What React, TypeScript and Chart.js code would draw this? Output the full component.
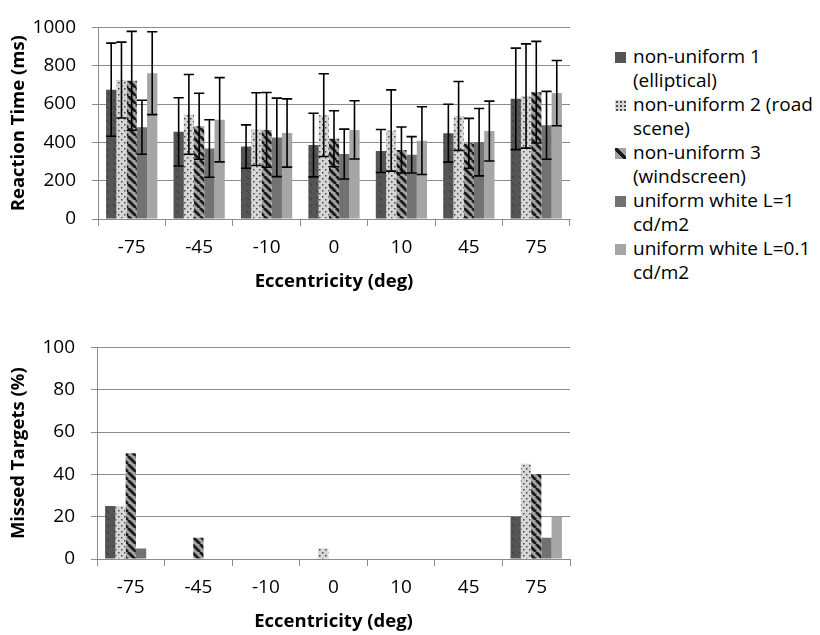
import React, { useEffect, useRef } from "react";
import { Chart, registerables } from "chart.js";

Chart.register(...registerables);

const categories = ["-75", "-45", "-10", "0", "10", "45", "75"];
const seriesNames = [
  "non-uniform 1\n(elliptical)",
  "non-uniform 2 (road\nscene)",
  "non-uniform 3\n(windscreen)",
  "uniform white L=1\ncd/m2",
  "uniform white L=0.1\ncd/m2",
];

// Reaction time means (ms)
const rt1 = [675, 455, 378, 386, 355, 448, 627];
const rt2 = [725, 546, 469, 542, 462, 538, 642];
const rt3 = [721, 484, 465, 419, 360, 395, 662];
const rt4 = [479, 368, 426, 339, 335, 401, 489];
const rt5 = [761, 518, 449, 465, 409, 459, 657];

// Reaction time error (± ms)
const err1 = [243, 178, 113, 166, 112, 151, 265];
const err2 = [198, 208, 190, 216, 212, 180, 272];
const err3 = [258, 172, 195, 146, 120, 130, 265];
const err4 = [141, 150, 205, 130, 95, 176, 177];
const err5 = [216, 220, 178, 152, 177, 156, 170];

// Missed targets (%)
const miss1 = [25, 0, 0, 0, 0, 0, 20];
const miss2 = [25, 0, 0, 5, 0, 0, 45];
const miss3 = [50, 10, 0, 0, 0, 0, 40];
const miss4 = [5, 0, 0, 0, 0, 0, 10];
const miss5 = [0, 0, 0, 0, 0, 0, 20];

const rtMax = 1000;
const rtStep = 200;
const missMax = 100;
const missStep = 20;

const FONT = "Open Sans";
const GRID = "#8c8c8c";
const TICK_SIZE = 19;
const TITLE_SIZE = 18.5;

function makePattern(kind: number): CanvasPattern | string {
  const c = document.createElement("canvas");
  const ctx = c.getContext("2d")!;
  if (kind === 0) {
    c.width = 7; c.height = 7;
    ctx.fillStyle = "#555555";
    ctx.fillRect(0, 0, 7, 7);
    ctx.strokeStyle = "#393939";
    ctx.lineWidth = 1;
    ctx.beginPath();
    ctx.moveTo(1, 1);
    ctx.lineTo(4, 4);
    ctx.stroke();
  } else if (kind === 1) {
    c.width = 6; c.height = 6;
    ctx.fillStyle = "#d6d6d6";
    ctx.fillRect(0, 0, 6, 6);
    ctx.fillStyle = "#4a4a4a";
    ctx.fillRect(1, 1, 1.5, 1.5);
    ctx.fillRect(4, 4, 1.5, 1.5);
  } else if (kind === 2) {
    c.width = 8; c.height = 8;
    ctx.fillStyle = "#a2a2a2";
    ctx.fillRect(0, 0, 8, 8);
    ctx.strokeStyle = "#1a1a1a";
    ctx.lineWidth = 2.8;
    for (const o of [-8, 0, 8]) {
      ctx.beginPath();
      ctx.moveTo(o, 0);
      ctx.lineTo(o + 8, 8);
      ctx.stroke();
    }
  } else if (kind === 3) {
    return "#727272";
  } else {
    return "#a6a6a6";
  }
  return ctx.createPattern(c, "repeat")!;
}

const errorBarPlugin = {
  id: "errorBars",
  afterDatasetsDraw(chart: any) {
    const errs = chart.options.plugins.errorBars?.errors as number[][] | undefined;
    if (!errs) return;
    const { ctx } = chart;
    const yScale = chart.scales.y;
    ctx.save();
    ctx.strokeStyle = "#000";
    ctx.lineWidth = 1.6;
    chart.data.datasets.forEach((ds: any, i: number) => {
      const e = errs[i];
      if (!e) return;
      const meta = chart.getDatasetMeta(i);
      meta.data.forEach((bar: any, j: number) => {
        const v = ds.data[j];
        const hi = yScale.getPixelForValue(v + e[j]);
        const lo = yScale.getPixelForValue(v - e[j]);
        const x = bar.x;
        const hw = bar.width / 2;
        ctx.beginPath();
        ctx.moveTo(x, hi);
        ctx.lineTo(x, lo);
        ctx.moveTo(x - hw, hi);
        ctx.lineTo(x + hw, hi);
        ctx.moveTo(x - hw, lo);
        ctx.lineTo(x + hw, lo);
        ctx.stroke();
      });
    });
    ctx.restore();
  },
};

function buildConfig(
  series: number[][],
  errors: number[][] | null,
  max: number,
  step: number,
  yTitle: string,
  opts: { top: number; yWidth: number; xHeight: number; yPad: number; titleBottom: number }
): any {
  return {
    type: "bar",
    data: {
      labels: categories,
      datasets: series.map((d, i) => ({
        label: seriesNames[i].replace("\n", " "),
        data: d,
        backgroundColor: makePattern(i),
        borderWidth: 0,
        categoryPercentage: 0.76,
        barPercentage: 1,
      })),
    },
    options: {
      responsive: false,
      animation: false,
      layout: { padding: { top: opts.top, right: 10, left: 0, bottom: 0 } },
      plugins: {
        legend: { display: false },
        tooltip: { enabled: false },
        errorBars: { errors },
      },
      scales: {
        x: {
          grid: { drawOnChartArea: false, tickLength: 7, color: GRID, offset: true },
          border: { color: GRID, width: 1 },
          ticks: { font: { family: FONT, size: TICK_SIZE }, color: "#000", padding: 10 },
          title: {
            display: true,
            text: "Eccentricity (deg)",
            font: { family: FONT, size: TITLE_SIZE, weight: "bold" },
            color: "#000",
            padding: { top: 0, bottom: opts.titleBottom },
          },
          afterFit: (s: any) => {
            s.height = opts.xHeight;
          },
        },
        y: {
          min: 0,
          max,
          ticks: {
            stepSize: step,
            font: { family: FONT, size: TICK_SIZE },
            color: "#000",
            padding: opts.yPad,
            callback: (v: any) => String(v),
          },
          grid: { color: GRID, lineWidth: 1, tickLength: 6 },
          border: { color: GRID, width: 1 },
          title: {
            display: true,
            text: yTitle,
            font: { family: FONT, size: TITLE_SIZE, weight: "bold" },
            color: "#000",
            padding: { top: 8, bottom: 0 },
          },
          afterFit: (s: any) => {
            s.width = opts.yWidth;
          },
        },
      },
    },
    plugins: [errorBarPlugin],
  };
}

function swatchStyle(i: number): React.CSSProperties {
  const base: React.CSSProperties = {
    position: "absolute",
    left: 615,
    width: 11,
    height: 11,
  };
  if (i === 0) return { ...base, background: "#555555" };
  if (i === 1)
    return {
      ...base,
      backgroundColor: "#d6d6d6",
      backgroundImage: "radial-gradient(#4a4a4a 0.8px, transparent 1px)",
      backgroundSize: "4px 4px",
    };
  if (i === 2)
    return {
      ...base,
      background:
        "linear-gradient(45deg, #a2a2a2 0%, #a2a2a2 38%, #1a1a1a 38%, #1a1a1a 62%, #a2a2a2 62%)",
    };
  if (i === 3) return { ...base, background: "#727272" };
  return { ...base, background: "#a6a6a6" };
}

export default function App() {
  const topRef = useRef<HTMLCanvasElement>(null);
  const botRef = useRef<HTMLCanvasElement>(null);

  useEffect(() => {
    const c1 = new Chart(
      topRef.current!,
      buildConfig(
        [rt1, rt2, rt3, rt4, rt5],
        [err1, err2, err3, err4, err5],
        rtMax,
        rtStep,
        "Reaction Time (ms)",
        { top: 17, yWidth: 98, xHeight: 81, yPad: 16, titleBottom: 7.5 }
      )
    );
    const c2 = new Chart(
      botRef.current!,
      buildConfig(
        [miss1, miss2, miss3, miss4, miss5],
        null,
        missMax,
        missStep,
        "Missed Targets (%)",
        { top: 22, yWidth: 97, xHeight: 76, yPad: 16, titleBottom: 2.5 }
      )
    );
    return () => {
      c1.destroy();
      c2.destroy();
    };
  }, []);

  return (
    <div
      style={{
        position: "fixed",
        left: 0,
        top: 0,
        width: 820,
        height: 635,
        background: "#fff",
        overflow: "hidden",
      }}
    >
      <canvas
        ref={topRef}
        width={580}
        height={300}
        style={{ position: "absolute", left: 0, top: 0, width: 580, height: 300 }}
      />
      <canvas
        ref={botRef}
        width={580}
        height={315}
        style={{ position: "absolute", left: 0, top: 320, width: 580, height: 315 }}
      />
      {seriesNames.map((name, i) => (
        <React.Fragment key={i}>
          <div style={{ ...swatchStyle(i), top: 52 + i * 48 }} />
          <div
            style={{
              position: "absolute",
              left: 633,
              top: 44 + i * 48,
              fontFamily: FONT,
              fontSize: 19,
              lineHeight: "24px",
              whiteSpace: "pre",
              color: "#000",
            }}
          >
            {name}
          </div>
        </React.Fragment>
      ))}
    </div>
  );
}
